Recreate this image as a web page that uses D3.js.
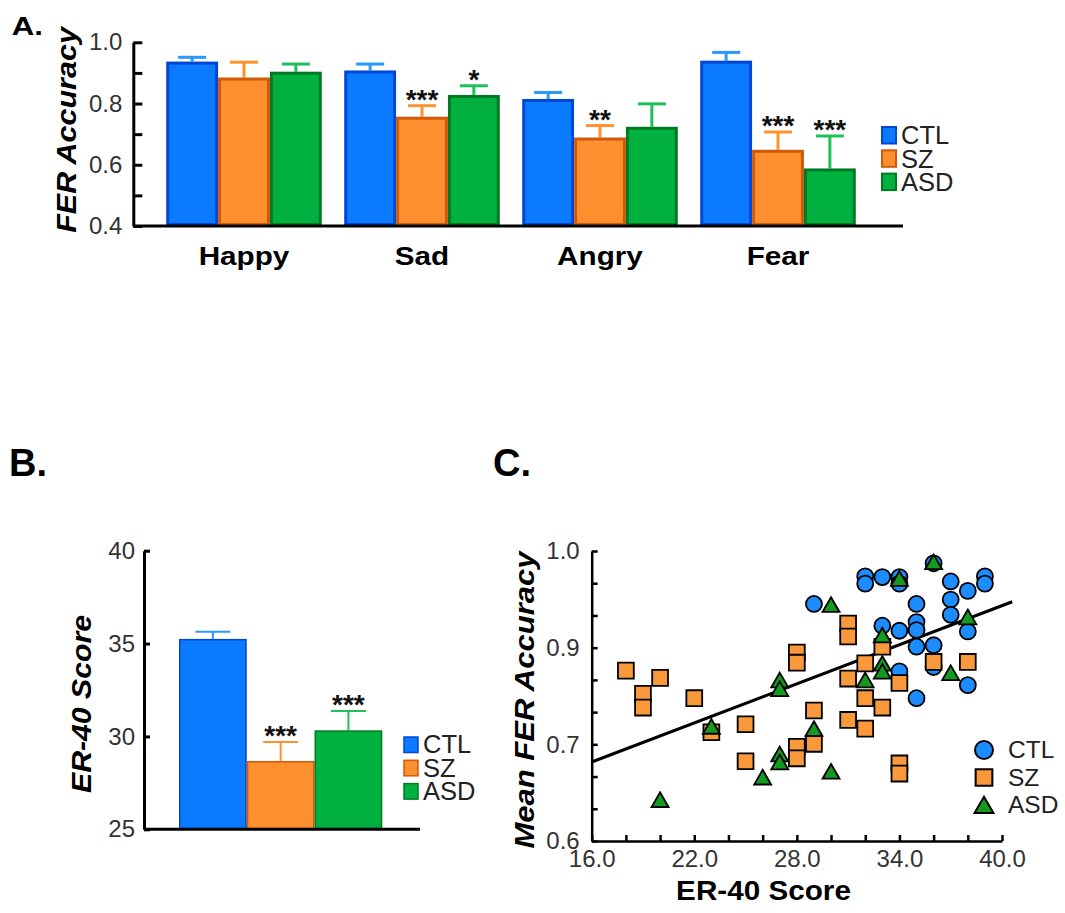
<!DOCTYPE html>
<html lang="en">
<head>
<meta charset="UTF-8">
<title>FER accuracy and ER-40 score</title>
<script src="https://d3js.org/d3.v7.min.js"></script>
<style>
  body { margin: 0; background: #fff; }
  svg text { font-family: "Liberation Sans", Arial, Helvetica, sans-serif; }
</style>
</head>
<body>
<div id="my_dataviz"></div>
<script>

// ---------- data ----------
var emotions = ["Happy", "Sad", "Angry", "Fear"];
var groups = ["CTL", "SZ", "ASD"];

// panel A: mean FER accuracy per emotion, upper error bar
var ctlAcc = [0.937, 0.908, 0.815, 0.940];
var szAcc  = [0.885, 0.757, 0.689, 0.649];
var asdAcc = [0.904, 0.828, 0.724, 0.588];
var ctlAccErr = [0.014, 0.021, 0.021, 0.027];
var szAccErr  = [0.050, 0.036, 0.039, 0.058];
var asdAccErr = [0.025, 0.030, 0.075, 0.106];
var szAccStars  = ["", "***", "**", "***"];
var asdAccStars = ["", "*", "", "***"];
var accTicks = [0.4, 0.6, 0.8, 1.0];

// panel B: ER-40 score per group
var er40Mean  = [35.25, 28.68, 30.33];
var er40Err   = [0.39, 1.02, 1.04];
var er40Stars = ["", "***", "***"];
var er40Ticks = [25, 30, 35, 40];

// panel C: ER-40 score vs mean FER accuracy
var ctlScore = [29, 32, 32, 33, 34, 34, 36, 37, 37, 37, 38, 39, 39, 35, 35, 35, 33, 34, 35, 36, 38, 34, 36, 38, 35];
var ctlMean  = [0.927, 0.965, 0.955, 0.964, 0.964, 0.955, 0.983, 0.958, 0.933, 0.912, 0.945, 0.965, 0.955,
                0.927, 0.902, 0.891, 0.897, 0.890, 0.868, 0.870, 0.889, 0.834, 0.840, 0.815, 0.797];
var szScore = [18, 19, 19, 20, 22, 23, 25, 25, 28, 28, 28, 28, 29, 29, 31, 31, 33, 32, 31, 38, 32, 33, 31, 32, 34, 36, 34, 34];
var szMean  = [0.835, 0.803, 0.784, 0.825, 0.797, 0.750, 0.761, 0.710, 0.860, 0.846, 0.730, 0.714, 0.780, 0.734,
               0.900, 0.882, 0.868, 0.845, 0.824, 0.847, 0.797, 0.784, 0.767, 0.755, 0.818, 0.847, 0.707, 0.693];
var asdScore = [20, 23, 26, 27, 27, 27, 27, 29, 30, 30, 33, 34, 36, 38, 33, 33, 32, 37];
var asdMean  = [0.657, 0.758, 0.688, 0.822, 0.810, 0.720, 0.709, 0.755, 0.696, 0.926, 0.884, 0.962, 0.985,
                0.909, 0.845, 0.834, 0.822, 0.832];
var fitScore = [16, 40.6];
var fitMean  = [0.709, 0.930];
var scoreTicks = [16, 22, 28, 34, 40];
var meanTicks  = [0.6, 0.7333, 0.8667, 1.0];   // printed with one decimal

// ---------- colours ----------
var fill = {CTL: "#0a7bff", SZ: "#fd8f2f", ASD: "#00b140"};
var edge = {CTL: "#0047d6", SZ: "#cf5a0a", ASD: "#007a22"};
var capc = {CTL: "#2a98ff", SZ: "#ff922e", ASD: "#1fc05a"};
var dot  = {CTL: "#1c8cff", SZ: "#fa983c", ASD: "#139a1f"};

var svg = d3.select("#my_dataviz")
  .append("svg")
    .attr("width", 1065)
    .attr("height", 913);

// text helper, sx stretches the glyphs along the reading direction
function label(g, txt, x, y, size, o) {
  o = o || {};
  return g.append("text")
    .attr("transform", "translate(" + x + "," + y + ")" + (o.rotate ? " rotate(-90)" : "") +
                       " scale(" + (o.sx || 1) + ",1)")
    .attr("text-anchor", o.anchor || "middle")
    .attr("fill", o.color || "#000")
    .style("font-size", size + "px")
    .style("font-weight", o.bold ? "bold" : "normal")
    .style("font-style", o.italic ? "italic" : "normal")
    .text(txt);
}

function styleAxis(g, size, width) {
  g.select(".domain").attr("stroke", "#000").attr("stroke-width", width);
  g.selectAll(".tick line").attr("stroke", "#000").attr("stroke-width", width);
  g.selectAll(".tick text").attr("fill", "#333").style("font-size", size + "px");
}

function isLabelled(list, d) {
  return list.some(function(t) { return Math.abs(t - d) < 1e-6; });
}

// ================= panel A =================
var yA = d3.scaleLinear().domain([0.4, 1.0]).range([226, 42.3]);
var xA = d3.scaleBand().domain(emotions).range([155, 867]).paddingInner(0.126).paddingOuter(0.063);
var xAin = d3.scaleBand().domain(groups).range([0, xA.bandwidth()]);

var accRows = emotions.map(function(e, i) {
  return {emotion: e, bars: [
    {group: "CTL", value: ctlAcc[i], err: ctlAccErr[i], star: ""},
    {group: "SZ",  value: szAcc[i],  err: szAccErr[i],  star: szAccStars[i]},
    {group: "ASD", value: asdAcc[i], err: asdAccErr[i], star: asdAccStars[i]}
  ]};
});

var barA = svg.append("g")
  .selectAll("g")
  .data(accRows)
  .enter()
  .append("g")
    .attr("transform", function(d) { return "translate(" + xA(d.emotion) + ",0)"; })
  .selectAll("g")
  .data(function(d) { return d.bars; })
  .enter()
  .append("g");

var bwA = xAin.bandwidth();
function midA(d) { return xAin(d.group) + bwA / 2; }

// error bars (upper only)
barA.append("line")
  .attr("x1", midA).attr("x2", midA)
  .attr("y1", function(d) { return yA(d.value); })
  .attr("y2", function(d) { return yA(d.value + d.err); })
  .attr("stroke", function(d) { return capc[d.group]; })
  .attr("stroke-width", 3);
barA.append("line")
  .attr("x1", function(d) { return midA(d) - 14; })
  .attr("x2", function(d) { return midA(d) + 14; })
  .attr("y1", function(d) { return yA(d.value + d.err); })
  .attr("y2", function(d) { return yA(d.value + d.err); })
  .attr("stroke", function(d) { return capc[d.group]; })
  .attr("stroke-width", 3);

barA.append("rect")
  .attr("x", function(d) { return xAin(d.group) + 1.5; })
  .attr("y", function(d) { return yA(d.value) + 1.5; })
  .attr("width", bwA - 3)
  .attr("height", function(d) { return yA(0.4) - yA(d.value) - 3; })
  .attr("fill", function(d) { return fill[d.group]; })
  .attr("stroke", function(d) { return edge[d.group]; })
  .attr("stroke-width", 3);

barA.append("text")
  .attr("x", midA)
  .attr("y", function(d) { return yA(d.value + d.err) + 3; })
  .attr("text-anchor", "middle")
  .style("font-size", "28px")
  .style("font-weight", "bold")
  .attr("fill", "#111")
  .text(function(d) { return d.star; });

// y axis, ticks pointing inward
var axA = svg.append("g")
  .attr("transform", "translate(133.3,0)")
  .call(d3.axisLeft(yA)
    .tickValues(d3.range(0.4, 1.0001, 0.1))
    .tickSizeInner(-9).tickSizeOuter(0).tickPadding(11)
    .tickFormat(function(d) { return isLabelled(accTicks, d) ? d3.format(".1f")(d) : ""; }));
styleAxis(axA, 24, 3);

svg.append("line")
  .attr("x1", 133.3).attr("x2", 903)
  .attr("y1", yA(0.4)).attr("y2", yA(0.4))
  .attr("stroke", "#000").attr("stroke-width", 3);

emotions.forEach(function(e) {
  label(svg, e, xA(e) + xA.bandwidth() / 2, 265, 25.6, {bold: true, sx: 1.16});
});
label(svg, "FER Accuracy", 76, 130, 28, {bold: true, italic: true, rotate: true, sx: 1.09});
label(svg, "A.", 11.7, 35, 26, {bold: true, sx: 1.2, anchor: "start"});

// legend A
groups.forEach(function(g, i) {
  svg.append("rect")
    .attr("x", 882).attr("y", 127 + i * 23.3)
    .attr("width", 14).attr("height", 16.5)
    .attr("fill", fill[g]).attr("stroke", edge[g]).attr("stroke-width", 2);
  label(svg, g, 901, 144.3 + i * 23.3, 25.5, {anchor: "start", color: "#222"});
});

// ================= panel B =================
var yB = d3.scaleLinear().domain([25, 40]).range([829.3, 550.7]);
var xB = d3.scaleBand().domain(groups).range([179, 382.3]);
var bwB = xB.bandwidth();

var er40Rows = groups.map(function(g, i) {
  return {group: g, value: er40Mean[i], err: er40Err[i], star: er40Stars[i]};
});
function midB(d) { return xB(d.group) + bwB / 2; }

var barB = svg.append("g")
  .selectAll("g")
  .data(er40Rows)
  .enter()
  .append("g");

barB.append("line")
  .attr("x1", midB).attr("x2", midB)
  .attr("y1", function(d) { return yB(d.value); })
  .attr("y2", function(d) { return yB(d.value + d.err); })
  .attr("stroke", function(d) { return capc[d.group]; })
  .attr("stroke-width", 2);
barB.append("line")
  .attr("x1", function(d) { return midB(d) - 17.5; })
  .attr("x2", function(d) { return midB(d) + 17.5; })
  .attr("y1", function(d) { return yB(d.value + d.err); })
  .attr("y2", function(d) { return yB(d.value + d.err); })
  .attr("stroke", function(d) { return capc[d.group]; })
  .attr("stroke-width", 2);

barB.append("rect")
  .attr("x", function(d) { return xB(d.group) + 0.75; })
  .attr("y", function(d) { return yB(d.value) + 0.75; })
  .attr("width", bwB - 1.5)
  .attr("height", function(d) { return yB(25) - yB(d.value) - 1.5; })
  .attr("fill", function(d) { return fill[d.group]; })
  .attr("stroke", function(d) { return edge[d.group]; })
  .attr("stroke-width", 1.5);

barB.append("text")
  .attr("x", midB)
  .attr("y", function(d) { return yB(d.value + d.err) + 3; })
  .attr("text-anchor", "middle")
  .style("font-size", "28px")
  .style("font-weight", "bold")
  .attr("fill", "#111")
  .text(function(d) { return d.star; });

var axB = svg.append("g")
  .attr("transform", "translate(144,0)")
  .call(d3.axisLeft(yB)
    .tickValues(er40Ticks)
    .tickSizeInner(-6).tickSizeOuter(0).tickPadding(9)
    .tickFormat(d3.format("d")));
styleAxis(axB, 24, 3);

svg.append("line")
  .attr("x1", 144).attr("x2", 420)
  .attr("y1", yB(25)).attr("y2", yB(25))
  .attr("stroke", "#000").attr("stroke-width", 3);

label(svg, "ER-40 Score", 91, 704, 28, {bold: true, italic: true, rotate: true, sx: 1.08});
label(svg, "B.", 9, 476, 38, {bold: true, anchor: "start"});

groups.forEach(function(g, i) {
  svg.append("rect")
    .attr("x", 404).attr("y", 737 + i * 23.3)
    .attr("width", 14).attr("height", 15.5)
    .attr("fill", fill[g]).attr("stroke", edge[g]).attr("stroke-width", 1.5);
  label(svg, g, 423, 753.3 + i * 23.3, 25.5, {anchor: "start", color: "#222"});
});

// ================= panel C =================
var xC = d3.scaleLinear().domain([16, 40]).range([591.7, 1002]);
var yC = d3.scaleLinear().domain([0.6, 1.0]).range([841, 551]);

// regression line
var fitPts = fitScore.map(function(s, i) { return [s, fitMean[i]]; });
svg.append("path")
  .datum(fitPts)
  .attr("d", d3.line().x(function(d) { return xC(d[0]); }).y(function(d) { return yC(d[1]); }))
  .attr("fill", "none")
  .attr("stroke", "#000")
  .attr("stroke-width", 3);

var symbols = {
  CTL: d3.symbol().type(d3.symbolCircle).size(201),
  SZ:  d3.symbol().type(d3.symbolSquare).size(250),
  ASD: d3.symbol().type(d3.symbolTriangle).size(125)
};
// triangles are shifted so their box, not their centroid, sits on the point
var symShift = {CTL: 0, SZ: 0, ASD: 2.4};

var scatterSets = [
  {group: "CTL", x: ctlScore, y: ctlMean},
  {group: "SZ",  x: szScore,  y: szMean},
  {group: "ASD", x: asdScore, y: asdMean}
];

scatterSets.forEach(function(set) {
  var pts = set.x.map(function(s, i) { return {score: s, mean: set.y[i]}; });
  svg.append("g")
    .selectAll("path")
    .data(pts)
    .enter()
    .append("path")
      .attr("d", symbols[set.group]())
      .attr("transform", function(d) {
        return "translate(" + xC(d.score) + "," + (yC(d.mean) + symShift[set.group]) + ")";
      })
      .attr("fill", dot[set.group])
      .attr("stroke", "#000")
      .attr("stroke-width", 1.8);
});

var axCx = svg.append("g")
  .attr("transform", "translate(0," + yC(0.6) + ")")
  .call(d3.axisBottom(xC)
    .tickValues(d3.range(16, 40.01, 2))
    .tickSizeInner(-6).tickSizeOuter(0).tickPadding(9)
    .tickFormat(function(d) { return isLabelled(scoreTicks, d) ? d3.format(".1f")(d) : ""; }));
styleAxis(axCx, 24, 2.5);

var axCy = svg.append("g")
  .attr("transform", "translate(" + xC(16) + ",0)")
  .call(d3.axisLeft(yC)
    .tickValues(d3.range(10).map(function(k) { return 0.6 + k * 0.4 / 9; }))
    .tickSizeInner(-6).tickSizeOuter(0).tickPadding(12)
    .tickFormat(function(d) { return isLabelled(meanTicks, Math.round(d * 10000) / 10000) ? d3.format(".1f")(d) : ""; }));
styleAxis(axCy, 24, 2.5);

label(svg, "ER-40 Score", 763.5, 900, 28, {bold: true, sx: 1.06});
label(svg, "Mean FER Accuracy", 534, 700, 27, {bold: true, italic: true, rotate: true, sx: 1.15});
label(svg, "C.", 493, 476, 38, {bold: true, anchor: "start"});

// legend C
var legSym = {
  CTL: d3.symbol().type(d3.symbolCircle).size(254),
  SZ:  d3.symbol().type(d3.symbolSquare).size(280),
  ASD: d3.symbol().type(d3.symbolTriangle).size(156)
};
groups.forEach(function(g, i) {
  svg.append("path")
    .attr("d", legSym[g]())
    .attr("transform", "translate(984," + (750 + i * 27.5 + (g === "ASD" ? 2.6 : 0)) + ")")
    .attr("fill", dot[g])
    .attr("stroke", "#000")
    .attr("stroke-width", 2);
  label(svg, g, 1008, 758 + i * 27.5, 24.5, {anchor: "start", color: "#222"});
});

</script>
</body>
</html>
